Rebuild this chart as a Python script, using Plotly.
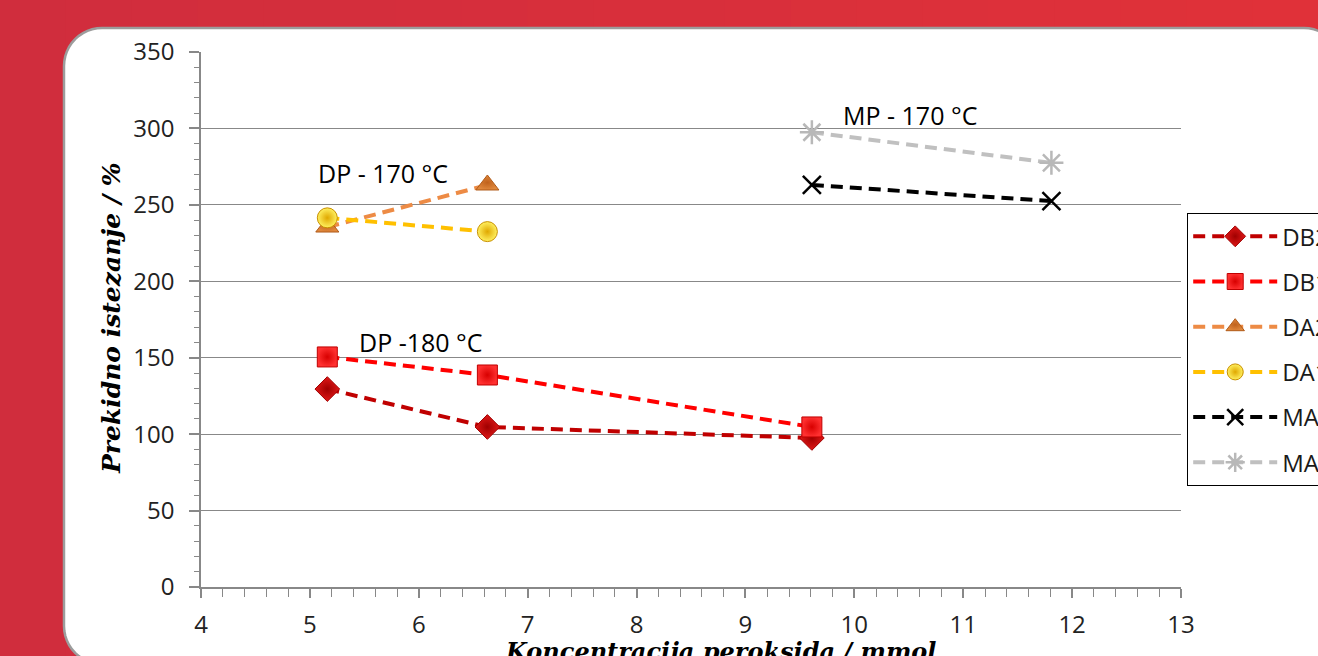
import math
import plotly.graph_objects as go

# ---------------- data ----------------
x_db = [5.16, 6.63, 9.61]
db2_y = [129.5, 104.7, 97.5]
db1_y = [150.5, 138.7, 104.7]
x_da = [5.16, 6.63]
da2_y = [235.5, 263.0]
da1_y = [241.5, 232.5]
x_ma = [9.61, 11.81]
ma2_y = [263.0, 252.5]
ma1_y = [297.5, 277.5]
names = ["DB2", "DB1", "DA2", "DA1", "MA2", "MA1"]
x_ticks = [4, 5, 6, 7, 8, 9, 10, 11, 12, 13]
y_ticks = [0, 50, 100, 150, 200, 250, 300, 350]
x_title = "Koncentracija peroksida / mmol"
y_title = "Prekidno istezanje / %"
label_texts = ["DP - 170 °C", "DP -180 °C", "MP - 170 °C"]

# ---------------- geometry helpers ----------------
W, H = 1318, 656
ML, MR, MT, MB = 201, W - 1181, 52, H - 587
PW, PH = W - ML - MR, H - MT - MB


def px(xp):
    return (xp - ML) / PW


def py(yp):
    return (H - MB - yp) / PH


def rounded_rect_path(x0, y0, x1, y1, r):
    pts = []
    corners = [((x0 + r, y0 + r), 180, 270), ((x1 - r, y0 + r), 270, 360),
               ((x1 - r, y1 - r), 0, 90), ((x0 + r, y1 - r), 90, 180)]
    for (cx, cy), a0, a1 in corners:
        for k in range(13):
            a = math.radians(a0 + (a1 - a0) * k / 12)
            pts.append((cx + r * math.cos(a), cy + r * math.sin(a)))
    return "M " + " L ".join(f"{px(a):.5f},{py(b):.5f}" for a, b in pts) + " Z"


dash = "12px,7px"
traces = [
    dict(x=x_db, y=db2_y, name=names[0], color="#C00000",
         marker=dict(symbol="diamond", size=19, color="#E01818",
                     gradient=dict(type="radial", color="#A00000"),
                     line=dict(color="#A00000", width=1))),
    dict(x=x_db, y=db1_y, name=names[1], color="#FF0000",
         marker=dict(symbol="square", size=20, color="#FF3030",
                     gradient=dict(type="radial", color="#D80000"),
                     line=dict(color="#C00000", width=1))),
    dict(x=x_da, y=da2_y, name=names[2], color="#ED8B45",
         marker=dict(symbol="triangle-up", size=20, color="#E0883C",
                     gradient=dict(type="radial", color="#C0621C"),
                     line=dict(color="#B05A18", width=1))),
    dict(x=x_da, y=da1_y, name=names[3], color="#FFC000",
         marker=dict(symbol="circle", size=20, color="#FFF060",
                     gradient=dict(type="radial", color="#E0A800"),
                     line=dict(color="#C89000", width=1))),
    dict(x=x_ma, y=ma2_y, name=names[4], color="#000000",
         marker=dict(symbol="x-thin", size=18, color="#000000",
                     line=dict(color="#000000", width=2.5))),
    dict(x=x_ma, y=ma1_y, name=names[5], color="#C0C0C0",
         marker=dict(symbol="asterisk", size=20, color="#C0C0C0",
                     line=dict(color="#B8B8B8", width=2.5))),
]

fig = go.Figure()
for i, t in enumerate(traces):
    fig.add_trace(go.Scatter(
        x=t["x"], y=t["y"], name=t["name"], mode="lines+markers",
        line=dict(color=t["color"], width=4, dash=dash),
        marker=t["marker"], legendgroup=f"g{i}"))

shapes = []
# background gradient strips
c0 = (0xD0, 0x2D, 0x3D)
c1 = (0xE0, 0x31, 0x39)
n = 20
for k in range(n):
    f = k / (n - 1)
    col = tuple(int(round(c0[j] + (c1[j] - c0[j]) * f)) for j in range(3))
    shapes.append(dict(type="rect", xref="paper", yref="paper",
                       x0=px(W * k / n), x1=px(W * (k + 1) / n + 1),
                       y0=py(H + 2), y1=py(-2), fillcolor="rgb(%d,%d,%d)" % col,
                       line=dict(width=0), layer="below"))
# white card
shapes.append(dict(type="path", xref="paper", yref="paper",
                   path=rounded_rect_path(64, 28, 1342, 664, 38),
                   fillcolor="white", line=dict(color="#9C9C9C", width=2.5),
                   layer="below"))

lab_font = dict(family="Open Sans", size=25, color="#000000")
annotations = [
    dict(text=label_texts[0], x=px(383), y=py(173), xref="paper", yref="paper",
         xanchor="center", yanchor="middle", showarrow=False, font=lab_font),
    dict(text=label_texts[1], x=px(421), y=py(342), xref="paper", yref="paper",
         xanchor="center", yanchor="middle", showarrow=False, font=lab_font),
    dict(text=label_texts[2], x=px(910), y=py(115), xref="paper", yref="paper",
         xanchor="center", yanchor="middle", showarrow=False, font=lab_font),
    dict(text="<b><i>%s</i></b>" % x_title, x=px(720), y=py(651), xref="paper",
         yref="paper", showarrow=False, xanchor="center", yanchor="middle",
         font=dict(family="DejaVu Serif", size=24, color="#000000")),
    dict(text="<b><i>%s</i></b>" % y_title, x=px(111), y=py(318), xref="paper",
         yref="paper", showarrow=False, textangle=-90, xanchor="center",
         yanchor="middle",
         font=dict(family="DejaVu Serif", size=25, color="#000000")),
]

axis_col = "#888888"
fig.update_layout(
    width=W, height=H,
    margin=dict(l=ML, r=MR, t=MT, b=MB, autoexpand=False),
    paper_bgcolor="#D5303C", plot_bgcolor="white",
    shapes=shapes, annotations=annotations,
    showlegend=True,
    legend=dict(x=px(1187), y=py(213), xanchor="left", yanchor="top",
                bgcolor="white", bordercolor="#000000", borderwidth=1.2,
                font=dict(family="Open Sans", size=24, color="#1a1a1a"),
                itemwidth=84, tracegroupgap=11, traceorder="grouped"),
    xaxis=dict(range=[4, 13], tickvals=x_ticks, showgrid=False, showline=True,
               linecolor=axis_col, linewidth=1.5, ticks="outside", ticklen=9,
               tickcolor=axis_col, tickwidth=1.5, ticklabelstandoff=6,
               tickfont=dict(family="Open Sans", size=24, color="#222222"),
               minor=dict(dtick=0.2, ticks="outside", ticklen=8, tickcolor=axis_col,
                          tickwidth=1.2),
               zeroline=False, fixedrange=True),
    xaxis2=dict(range=[4, 13], overlaying="x", anchor="y", tickvals=x_ticks,
                showgrid=False, showline=False, ticks="inside", ticklen=9,
                tickcolor=axis_col, tickwidth=1.5, showticklabels=False,
                zeroline=False),
    yaxis=dict(range=[0, 350], tickvals=y_ticks, showgrid=True, gridcolor=axis_col,
               gridwidth=1, showline=True, linecolor=axis_col, linewidth=1.5,
               ticks="outside", ticklen=10, tickcolor=axis_col, tickwidth=1.5,
               ticklabelstandoff=10,
               tickfont=dict(family="Open Sans", size=24, color="#222222"),
               minor=dict(dtick=10, ticks="outside", ticklen=5, tickcolor=axis_col,
                          tickwidth=1.2, showgrid=False),
               zeroline=False, fixedrange=True),
)

fig.write_html(
    "out.html",
    config={"displayModeBar": False},
    post_script="document.body.style.margin='0';document.body.style.overflow='hidden';",
)
